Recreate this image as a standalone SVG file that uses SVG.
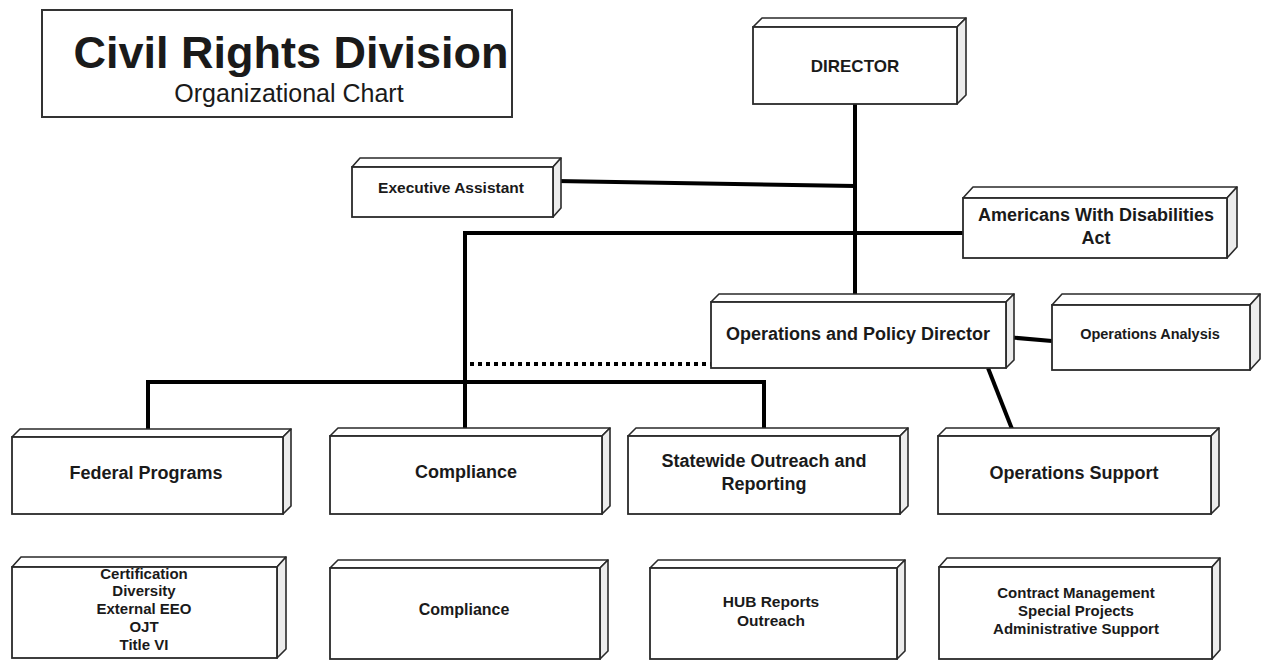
<svg xmlns="http://www.w3.org/2000/svg" width="1263" height="660" viewBox="0 0 1263 660">
<style>
.front{fill:#fff;stroke:#2a2a2a;stroke-width:1.8}
.top{fill:#fff;stroke:#2a2a2a;stroke-width:1.6;stroke-linejoin:round}
.side{fill:#ececec;stroke:#2a2a2a;stroke-width:1.6;stroke-linejoin:round}
.t{font-family:"Liberation Sans",Arial,sans-serif;font-weight:bold;fill:#1a1a1a;text-anchor:middle}
.sub{font-family:"Liberation Sans",Arial,sans-serif;font-weight:normal;fill:#1a1a1a;text-anchor:middle}
.c{fill:none;stroke:#000;stroke-width:4}
</style>
<rect width="1263" height="660" fill="#fff"/>
<g id="connectors">
<path class="c" d="M855,104 V302"/>
<path class="c" d="M556,181 L855,186"/>
<path class="c" d="M963,233 H465 V436"/>
<path class="c" d="M470,364 H711" stroke-dasharray="4,4"/>
<path class="c" d="M148,437 V382 H764 V436"/>
<path class="c" d="M1006,337 L1052,341"/>
<path class="c" d="M988,368 L1012,429"/>
</g>
<g id="title">
<rect x="42" y="10" width="470" height="107" fill="#fff" stroke="#333" stroke-width="2"/>
<text class="t" x="291" y="68" font-size="45">Civil Rights Division</text>
<text class="sub" x="289" y="102" font-size="25">Organizational Chart</text>
</g>
<g id="director">
<path class="top" d="M753,27 L762,18 H966 L957,27 Z"/>
<path class="side" d="M957,27 L966,18 V95 L957,104 Z"/>
<rect class="front" x="753" y="27" width="204" height="77"/>
<text class="t" x="855" y="72" font-size="17">DIRECTOR</text>
</g>
<g id="exec-assistant">
<path class="top" d="M352,167 L360,158 H561 L553,167 Z"/>
<path class="side" d="M553,167 L561,158 V208 L553,217 Z"/>
<rect class="front" x="352" y="167" width="201" height="50"/>
<text class="t" x="451" y="193" font-size="15.5">Executive Assistant</text>
</g>
<g id="ada">
<path class="top" d="M963,198 L973,187 H1237 L1227,198 Z"/>
<path class="side" d="M1227,198 L1237,187 V247 L1227,258 Z"/>
<rect class="front" x="963" y="198" width="264" height="60"/>
<text class="t" x="1096" y="221" font-size="18">Americans With Disabilities</text>
<text class="t" x="1096" y="244" font-size="18">Act</text>
</g>
<g id="ops-policy">
<path class="top" d="M711,302 L719,294 H1014 L1006,302 Z"/>
<path class="side" d="M1006,302 L1014,294 V360 L1006,368 Z"/>
<rect class="front" x="711" y="302" width="295" height="66"/>
<text class="t" x="858" y="340" font-size="18">Operations and Policy Director</text>
</g>
<g id="ops-analysis">
<path class="top" d="M1052,305 L1062,294 H1260 L1250,305 Z"/>
<path class="side" d="M1250,305 L1260,294 V359 L1250,370 Z"/>
<rect class="front" x="1052" y="305" width="198" height="65"/>
<text class="t" x="1150" y="339" font-size="14.5">Operations Analysis</text>
</g>
<g id="federal-programs">
<path class="top" d="M12,437 L20,429 H291 L283,437 Z"/>
<path class="side" d="M283,437 L291,429 V506 L283,514 Z"/>
<rect class="front" x="12" y="437" width="271" height="77"/>
<text class="t" x="146" y="479" font-size="18">Federal Programs</text>
</g>
<g id="compliance">
<path class="top" d="M330,436 L338,428 H610 L602,436 Z"/>
<path class="side" d="M602,436 L610,428 V506 L602,514 Z"/>
<rect class="front" x="330" y="436" width="272" height="78"/>
<text class="t" x="466" y="478" font-size="18">Compliance</text>
</g>
<g id="statewide">
<path class="top" d="M628,436 L636,428 H908 L900,436 Z"/>
<path class="side" d="M900,436 L908,428 V506 L900,514 Z"/>
<rect class="front" x="628" y="436" width="272" height="78"/>
<text class="t" x="764" y="467" font-size="18">Statewide Outreach and</text>
<text class="t" x="764" y="490" font-size="18">Reporting</text>
</g>
<g id="ops-support">
<path class="top" d="M938,436 L946,428 H1219 L1211,436 Z"/>
<path class="side" d="M1211,436 L1219,428 V506 L1211,514 Z"/>
<rect class="front" x="938" y="436" width="273" height="78"/>
<text class="t" x="1074" y="479" font-size="18">Operations Support</text>
</g>
<g id="fed-detail">
<path class="top" d="M12,567 L21,557 H286 L277,567 Z"/>
<path class="side" d="M277,567 L286,557 V649 L277,658 Z"/>
<rect class="front" x="12" y="567" width="265" height="91"/>
<text class="t" x="144" y="579" font-size="15">Certification</text>
<text class="t" x="144" y="596" font-size="15">Diversity</text>
<text class="t" x="144" y="614" font-size="15">External EEO</text>
<text class="t" x="144" y="632" font-size="15">OJT</text>
<text class="t" x="144" y="650" font-size="15">Title VI</text>
</g>
<g id="compliance-detail">
<path class="top" d="M330,568 L338,560 H608 L600,568 Z"/>
<path class="side" d="M600,568 L608,560 V651 L600,659 Z"/>
<rect class="front" x="330" y="568" width="270" height="91"/>
<text class="t" x="464" y="615" font-size="16">Compliance</text>
</g>
<g id="hub-detail">
<path class="top" d="M650,568 L658,560 H905 L897,568 Z"/>
<path class="side" d="M897,568 L905,560 V651 L897,659 Z"/>
<rect class="front" x="650" y="568" width="247" height="91"/>
<text class="t" x="771" y="607" font-size="15.5">HUB Reports</text>
<text class="t" x="771" y="626" font-size="15.5">Outreach</text>
</g>
<g id="opsupport-detail">
<path class="top" d="M939,567 L947,558 H1220 L1212,567 Z"/>
<path class="side" d="M1212,567 L1220,558 V650 L1212,659 Z"/>
<rect class="front" x="939" y="567" width="273" height="92"/>
<text class="t" x="1076" y="598" font-size="15">Contract Management</text>
<text class="t" x="1076" y="616" font-size="15">Special Projects</text>
<text class="t" x="1076" y="634" font-size="15">Administrative Support</text>
</g>
</svg>
